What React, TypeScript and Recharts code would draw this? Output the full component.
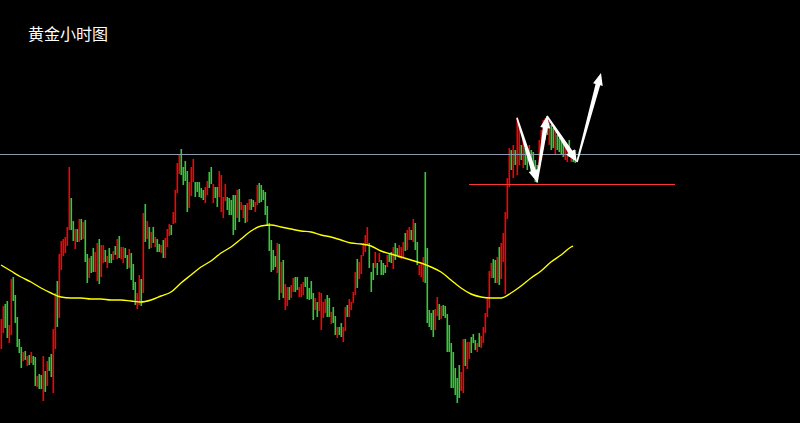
import { ComposedChart, Bar, Line, XAxis, YAxis, ReferenceLine } from 'recharts';

// 小时K线 (价格单位: 图内相对点位)
const highs = [
    104, 117, 119, 122, 98, 144, 146, 128, 106, 84,
    76, 71, 72, 67, 68, 71, 67, 66, 47, 49,
    48, 67, 52, 62, 66, 69, 94, 130, 142, 169,
    182, 184, 186, 196, 256, 225, 202, 194, 194, 204,
    204, 201, 203, 169, 165, 167, 175, 171, 180, 184,
    178, 178, 173, 167, 175, 169, 172, 177, 184, 187,
    176, 176, 175, 168, 174, 170, 159, 141, 130, 148,
    144, 210, 219, 202, 196, 191, 196, 186, 184, 179,
    178, 183, 185, 194, 199, 198, 211, 233, 260, 268,
    274, 256, 262, 252, 241, 256, 264, 241, 241, 241,
    235, 233, 236, 242, 251, 256, 239, 236, 236, 252,
    248, 226, 239, 226, 225, 223, 228, 228, 233, 234,
    221, 218, 218, 220, 224, 224, 223, 221, 238, 240,
    238, 233, 231, 217, 200, 183, 173, 167, 180, 179,
    161, 163, 139, 136, 136, 138, 145, 146, 146, 136,
    139, 141, 146, 146, 135, 142, 130, 125, 121, 131,
    130, 121, 124, 128, 125, 111, 116, 107, 96, 96,
    100, 96, 116, 118, 124, 121, 131, 151, 164, 161,
    168, 180, 188, 196, 180, 151, 160, 171, 160, 170,
    163, 160, 158, 168, 169, 171, 176, 180, 175, 178,
    176, 181, 190, 193, 196, 193, 204, 200, 181, 158,
    160, 166, 251, 175, 113, 110, 113, 114, 126, 119,
    117, 118, 117, 109, 98, 80, 71, 55, 45, 58,
    51, 84, 84, 81, 81, 86, 89, 83, 80, 90,
    87, 96, 110, 126, 152, 160, 164, 163, 166, 176,
    180, 190, 211, 245, 275, 273, 278, 273, 306, 298,
    278, 283, 275, 275, 278, 273, 271, 263, 258, 283,
    293, 303, 305, 307, 303, 298, 295, 293, 288, 285,
    283, 281, 278, 275, 283, 273, 270, 273,
];

const lows = [
    74, 90, 95, 85, 80, 88, 122, 100, 76, 70,
    55, 62, 63, 57, 58, 60, 58, 37, 36, 34,
    34, 22, 31, 37, 52, 46, 30, 74, 96, 105,
    153, 167, 170, 177, 193, 193, 182, 174, 181, 181,
    183, 184, 161, 140, 145, 150, 151, 151, 142, 139,
    146, 160, 161, 155, 160, 160, 163, 168, 164, 165,
    164, 160, 165, 154, 155, 143, 133, 118, 114, 118,
    117, 130, 181, 184, 174, 175, 180, 176, 171, 171,
    170, 165, 165, 176, 187, 188, 199, 200, 230, 249,
    248, 238, 242, 211, 215, 227, 241, 226, 231, 226,
    225, 223, 220, 228, 235, 239, 220, 225, 216, 226,
    211, 205, 222, 213, 208, 208, 188, 193, 205, 201,
    213, 205, 200, 201, 213, 213, 216, 211, 218, 220,
    221, 223, 208, 197, 172, 151, 153, 156, 150, 123,
    130, 125, 113, 117, 123, 125, 131, 131, 133, 126,
    126, 128, 136, 124, 123, 124, 103, 113, 106, 112,
    93, 105, 110, 106, 106, 99, 100, 88, 85, 88,
    86, 81, 92, 106, 106, 113, 120, 128, 135, 144,
    149, 167, 171, 178, 155, 131, 143, 155, 148, 161,
    148, 148, 150, 156, 161, 160, 154, 163, 168, 165,
    164, 166, 172, 173, 183, 183, 181, 173, 158, 148,
    146, 141, 140, 100, 96, 93, 86, 93, 107, 103,
    104, 107, 105, 71, 71, 35, 35, 28, 20, 25,
    32, 30, 57, 54, 64, 70, 80, 73, 71, 76,
    75, 80, 90, 106, 115, 145, 145, 140, 140, 138,
    144, 161, 129, 204, 236, 253, 245, 258, 248, 258,
    263, 255, 258, 253, 263, 251, 248, 241, 240, 253,
    263, 273, 283, 288, 278, 273, 275, 268, 273, 271,
    268, 266, 263, 261, 266, 261, 261, 260,
];

// R = 阳线 (红), G = 阴线 (绿)
const dirs =
    'RRGGRRGGGG' + 'GRGRGRGGRG' + 'GRGRGGRRGR' + 'RRRRRGGRGR' + 'GRGGRGGRRG' +
    'RRGRGGRGRG' + 'RRGGRGGGRR' + 'GRGRGRGRGG' + 'RGRRRGRRRR' + 'GGGGRRRGGG' +
    'GGRRGGRGGR' + 'RRRGGGGGRG' + 'RRGRRGGRRG' + 'GGGGGGGGRG' + 'RGRRGRRGGR' +
    'RRGGGGGRGR' + 'RRRGGRGGRG' + 'GRRGRRRRGR' + 'RRRRGGGRGR' + 'GGGRGGRGGR' +
    'RRGRRGRGGR' + 'RRGGGGGRRG' + 'RGGGGGGGGG' + 'RRGRRGGGRG' + 'RRRRRRGGRG' +
    'RRRRRGRGRR' + 'GRGGRGGGGR' + 'RRRGRGGRGG' + 'GGRRGRGG';

// 均线 (K线序号, 数值)
const maSamples: [number, number][] = [
    [0, 158], [5, 152], [10, 146], [15, 141], [20, 135], [25, 130], [30, 126], [35, 125],
    [40, 125], [45, 124], [50, 124], [55, 123], [60, 123], [65, 122], [70, 121], [75, 123],
    [80, 127], [85, 131], [90, 140], [95, 148], [100, 156], [105, 162], [110, 170], [115, 176],
    [120, 184], [125, 192], [130, 197], [135, 198], [140, 196], [145, 194], [150, 192], [155, 191],
    [160, 188], [165, 186], [170, 183], [175, 180], [180, 179], [185, 177], [190, 172], [195, 169],
    [200, 166], [205, 163], [210, 160], [215, 156], [220, 151], [225, 143], [230, 135], [235, 129],
    [240, 126], [245, 125], [250, 125], [255, 130], [260, 137], [265, 145], [270, 152], [275, 161],
    [280, 168], [285, 176], [286, 177],
];

const resistance = 269;
const support = 239;
const supportFrom = 234;
const supportTo = 337;
const arrowPath: [number, number][] = [[258, 305], [268, 241], [273, 307], [288, 261], [300, 350]];

const SLOTS = 400;
const RED = '#ff0000';
const GREEN = '#32cd32';

const maMap = new Map(maSamples);
const data = Array.from({ length: SLOTS }, (_, i) => ({
    i,
    upRange: i < highs.length && dirs[i] === 'R' ? [lows[i], highs[i]] : null,
    downRange: i < highs.length && dirs[i] === 'G' ? [lows[i], highs[i]] : null,
    ma: maMap.has(i) ? maMap.get(i) : null,
}));

const makeCandle = (color: string) => (p: any) => {
    if (p.height == null || p.width == null || isNaN(p.y) || isNaN(p.x)) return <g />;
    const y = Math.min(p.y, p.y + p.height);
    const h = Math.max(1, Math.abs(p.height));
    const x = Math.floor(p.x + p.width / 2) - 0.5;
    return <rect x={x} y={y} width={1.6} height={h} fill={color} />;
};

const Arrow = (p: any) => {
    const { x1, y1, x2, y2 } = p;
    const dx = x2 - x1;
    const dy = y2 - y1;
    const len = Math.hypot(dx, dy) || 1;
    const ux = dx / len;
    const uy = dy / len;
    const nx = -uy;
    const ny = ux;
    const head = 12;
    const hw = 5;
    const sw = 2.4;
    const bx = x2 - ux * head;
    const by = y2 - uy * head;
    const pts = [
        [x1 + nx * 0.8, y1 + ny * 0.8],
        [bx + nx * sw, by + ny * sw],
        [bx + nx * hw, by + ny * hw],
        [x2, y2],
        [bx - nx * hw, by - ny * hw],
        [bx - nx * sw, by - ny * sw],
        [x1 - nx * 0.8, y1 - ny * 0.8],
    ];
    return <polygon points={pts.map((q) => q.join(',')).join(' ')} fill="#ffffff" />;
};

export default function App() {
    return (
        <div
            style={{
                position: 'fixed',
                left: 0,
                top: 0,
                width: 800,
                height: 423,
                background: '#000',
                overflow: 'hidden',
            }}
        >
            <ComposedChart
                width={800}
                height={423}
                data={data}
                margin={{ top: 0, right: 0, bottom: 0, left: 0 }}
                barGap={-1}
                barCategoryGap={0}
            >
                <XAxis dataKey="i" type="category" hide />
                <YAxis type="number" domain={[0, 423]} allowDataOverflow hide />

                <ReferenceLine y={resistance} stroke="#8c9aab" strokeWidth={1} shapeRendering="crispEdges" />

                <Bar dataKey="upRange" barSize={1} fill={RED} shape={makeCandle(RED)} isAnimationActive={false} />
                <Bar dataKey="downRange" barSize={1} fill={GREEN} shape={makeCandle(GREEN)} isAnimationActive={false} />

                <Line
                    type="monotone"
                    dataKey="ma"
                    stroke="#ffff00"
                    strokeWidth={1.4}
                    dot={false}
                    activeDot={false}
                    connectNulls
                    isAnimationActive={false}
                />

                <ReferenceLine
                    segment={[{ x: supportFrom, y: support }, { x: supportTo, y: support }]}
                    stroke="#ff3333"
                    strokeWidth={1}
                    shapeRendering="crispEdges"
                />

                {arrowPath.slice(1).map((pt, k) => (
                    <ReferenceLine
                        key={k}
                        segment={[
                            { x: arrowPath[k][0], y: arrowPath[k][1] },
                            { x: pt[0], y: pt[1] },
                        ]}
                        shape={Arrow}
                    />
                ))}
            </ComposedChart>

            <div
                style={{
                    position: 'absolute',
                    left: 28,
                    top: 25,
                    color: '#fff',
                    fontFamily: '"Noto Sans CJK SC", sans-serif',
                    fontSize: 16,
                    lineHeight: '17px',
                }}
            >
                黄金小时图
            </div>
        </div>
    );
}
